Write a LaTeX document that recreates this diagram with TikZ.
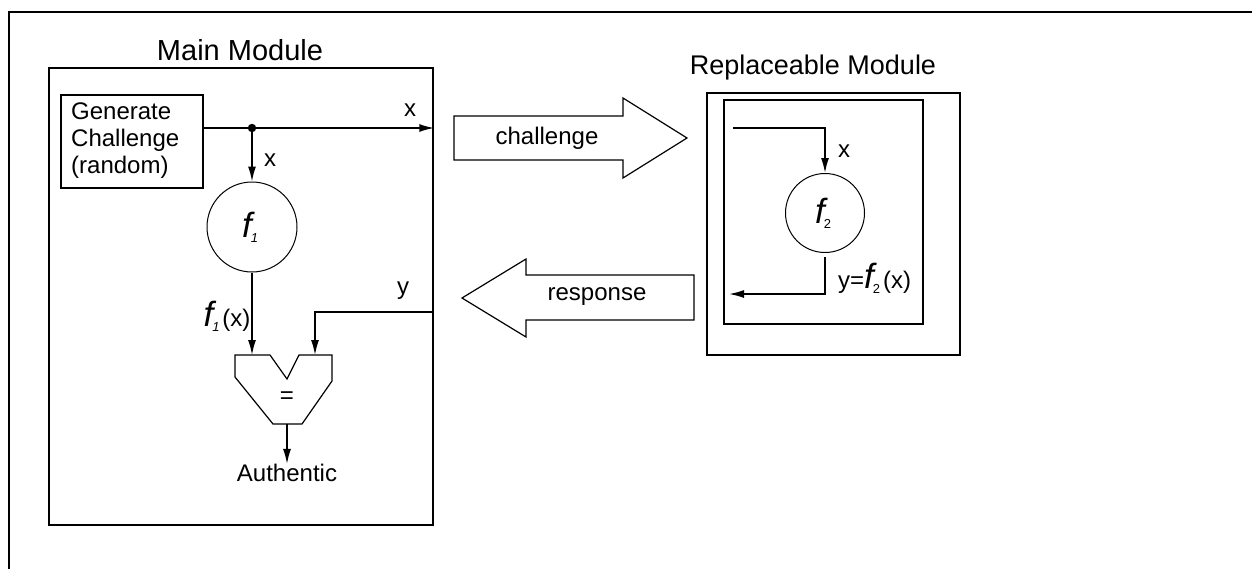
\documentclass[tikz,border=0pt]{standalone}
\usepackage{fontspec}
\setmainfont{Liberation Sans}
\usetikzlibrary{arrows.meta}
\begin{document}
\begin{tikzpicture}[x=1pt,y=-1pt,
  lbl/.style={font=\fontsize{24}{27}\selectfont, inner sep=0pt},
  ttl/.style={font=\fontsize{27}{30}\selectfont, inner sep=0pt},
  modbox/.style={draw, line width=2.6pt, inner sep=0pt},
  fcircle/.style={draw, circle, line width=1pt, inner sep=0pt},
  conn/.style={line width=1.6pt},
  arr/.style={line width=1.6pt, -{Latex[length=15pt,width=8pt]}},
  bigarrow/.style={line width=1.2pt, line join=miter}
]
\useasboundingbox (0,0) rectangle (1252,568);
\clip (0,0) rectangle (1252,568);
% outer frame
\draw[line width=2.6pt] (9,700) -- (9,12) -- (1400,12);

% Main module
\node[ttl, font=\fontsize{29}{32}\selectfont] (maintitle) at (240,50) {Main Module};
\node[modbox, minimum width=384pt, minimum height=457pt] (main) at (241,296.5) {};
\node[draw, line width=2pt, minimum width=142pt, minimum height=93pt, inner sep=0pt] (gen) at (132,141.5) {};
\node[lbl, align=left, anchor=west] (gentext) at (71,141) {Generate\\Challenge\\(random)};
\coordinate (dot) at (252,128);
\node[fcircle, minimum size=90pt] (f1) at (252,227) {};
\node[inner sep=0pt] (f1lbl) at (250,227) {\fontsize{35}{35}\selectfont\itshape f\kern-1pt\raisebox{-5pt}{\fontsize{13}{13}\selectfont 1}};
\draw[conn] (gen.east |- dot) -- (dot);
\draw[arr] (dot) -- (dot -| main.east);
\fill (dot) circle (4.2pt);
\draw[arr] (dot) -- (f1.north);
\node[lbl] (xtop) at (410,110) {x};
\node[lbl] (xmid) at (270,160) {x};

% comparator
\coordinate (cmpL) at (252,355);
\coordinate (cmpR) at (315,355);
\coordinate (cmpB) at (287,424);
\draw[line width=1.2pt, line join=miter] (235,355) -- (270,355) -- (287,379) -- (299,355) -- (332,355) -- (332,381) -- (302,424) -- (273,424) -- (235,377) -- cycle;
\node[lbl] (eq) at (287,398) {=};
\draw[arr] (f1.south) -- (cmpL);
\coordinate (yin) at (433,312);
\draw[arr] (yin) -- (315,312) -- (cmpR);
\node[lbl] (ylbl) at (403,291) {y};
\node[lbl, anchor=base] (f1x) at (227,326) {\fontsize{35}{35}\selectfont\itshape f\kern-1pt\raisebox{-5pt}{\fontsize{13}{13}\selectfont 1}\kern3pt\upshape\fontsize{24}{24}\selectfont(x)};
\node[lbl] (auth) at (287,473) {Authentic};
\draw[arr] (cmpB) -- (auth.north);

% challenge arrow
\draw[bigarrow] (454,116) -- (623,116) -- (623,98) -- (687,138) -- (623,178) -- (623,160) -- (454,160) -- cycle;
\node[lbl] (chal) at (547,138) {challenge};
% response arrow
\draw[bigarrow] (694,275) -- (526,275) -- (526,259) -- (462,298) -- (526,337) -- (526,320) -- (694,320) -- cycle;
\node[lbl] (resp) at (597,297) {response};

% Replaceable module
\node[ttl] (reptitle) at (813,68) {Replaceable Module};
\node[modbox, minimum width=253pt, minimum height=262pt] (rep) at (833.5,224) {};
\node[modbox, line width=2.2pt, minimum width=199pt, minimum height=224pt] (inner) at (823.5,212) {};
\node[fcircle, minimum size=79pt] (f2) at (825,213) {};
\node[inner sep=0pt] (f2lbl) at (823,213) {\fontsize{35}{35}\selectfont\itshape f\kern-1pt\raisebox{-5pt}{\upshape\fontsize{13}{13}\selectfont 2}};
\coordinate (inx) at (733,128);
\draw[arr] (inx) -- (inx -| f2.north) -- (f2.north);
\coordinate (outy) at (729,294);
\draw[arr] ([yshift=-4pt]f2.south) -- (f2.south |- outy) -- (outy);
\node[lbl] (x2) at (844,151) {x};
\node[lbl, anchor=base west] (ylab2) at (838,288) {y=\fontsize{35}{35}\selectfont\itshape f\kern-1pt\raisebox{-5pt}{\upshape\fontsize{13}{13}\selectfont 2}\kern3pt\upshape\fontsize{24}{24}\selectfont(x)};
\end{tikzpicture}
\end{document}
